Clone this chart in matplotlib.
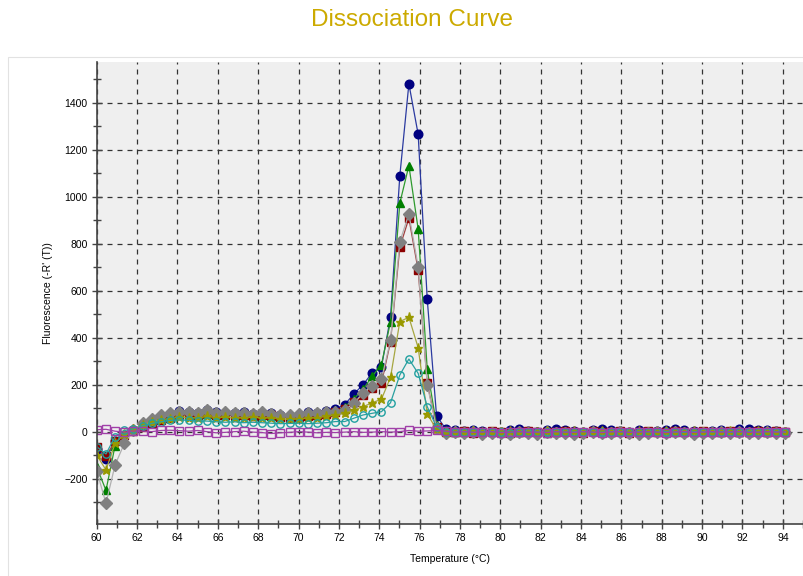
import matplotlib
matplotlib.use("Agg")
import matplotlib.pyplot as plt
from matplotlib.ticker import MultipleLocator
from matplotlib.patches import Rectangle

plt.rcParams['font.family'] = ['Liberation Sans', 'DejaVu Sans']

temperature = [60.00, 60.46, 60.91, 61.37, 61.82, 62.28, 62.73, 63.19, 63.64, 64.10,
               64.55, 65.01, 65.46, 65.92, 66.37, 66.83, 67.28, 67.74, 68.19, 68.65,
               69.10, 69.56, 70.01, 70.47, 70.92, 71.38, 71.83, 72.29, 72.74, 73.20,
               73.65, 74.11, 74.56, 75.02, 75.47, 75.93, 76.38, 76.84, 77.29, 77.75,
               78.20, 78.66, 79.11, 79.57, 80.02, 80.48, 80.93, 81.39, 81.84, 82.30,
               82.75, 83.21, 83.66, 84.12, 84.57, 85.03, 85.48, 85.94, 86.39, 86.85,
               87.30, 87.76, 88.21, 88.67, 89.12, 89.58, 90.03, 90.49, 90.94, 91.40,
               91.85, 92.31, 92.76, 93.22, 93.67, 94.13]

blue = [-75, -115, -40, -15, 5, 25, 40, 55, 70, 88,
        85, 80, 92, 82, 80, 78, 82, 75, 78, 80,
        70, 68, 72, 85, 80, 88, 95, 115, 160, 200,
        250, 275, 487, 1088, 1480, 1265, 563, 68, 12, 5,
        3, 8, 2, 0, -2, 5, 10, 3, 0, 8,
        12, 6, 3, 0, 5, 10, 8, 2, -3, 5,
        0, 3, 8, 12, 5, 2, 0, 4, 6, 0,
        10, 12, 8, 5, 2, 0]
green = [-150, -250, -60, -30, 5, 25, 40, 55, 62, 70,
         72, 70, 75, 70, 72, 68, 70, 72, 70, 68,
         62, 60, 65, 70, 72, 80, 90, 105, 140, 180,
         235, 285, 468, 972, 1132, 862, 265, 30, 5, 0,
         -2, 2, 0, -3, 0, 2, -2, 0, 3, -4,
         0, 2, -2, 0, 1, -3, 0, 2, 0, -2,
         0, 3, 0, -2, 1, 0, -3, 2, 0, 1,
         0, -2, 2, 0, 1, 0]
red = [-65, -105, -40, -15, 3, 20, 35, 50, 60, 70,
       75, 70, 78, 72, 70, 72, 70, 68, 70, 72,
       62, 60, 62, 68, 70, 75, 82, 95, 125, 156,
       185, 206, 383, 785, 908, 687, 206, 20, 0, -2,
       2, -4, 0, 3, -2, -5, 0, 2, -3, 0,
       -2, 3, 0, -4, 2, 0, -2, 3, -5, 0,
       2, -2, 0, 3, -3, 0, 2, -2, 0, 3,
       0, -2, 2, 0, 1, -2]
gray = [-166, -305, -142, -50, 5, 35, 55, 70, 80, 85,
        82, 78, 92, 80, 82, 78, 80, 76, 82, 74,
        72, 70, 74, 78, 80, 82, 85, 92, 121, 163,
        196, 223, 388, 808, 926, 702, 199, 15, -5, -3,
        -6, -2, -8, -4, -5, -10, -3, -6, -8, -2,
        -5, -4, -8, -6, -3, -7, -5, -2, -6, -8,
        -4, -3, -6, -2, -5, -8, -4, -6, -3, -5,
        -2, -4, -6, -3, -5, -4]
olive = [-100, -163, -50, -10, 10, 30, 40, 50, 55, 62,
         60, 58, 65, 60, 62, 58, 60, 62, 58, 60,
         55, 52, 55, 58, 60, 65, 70, 78, 92, 106,
         123, 138, 231, 468, 487, 357, 75, 10, 0, -2,
         0, 2, -1, 0, -3, 1, 0, -2, 0, 2,
         -1, 0, 1, -2, 0, 2, 0, -1, 0, 1,
         -2, 0, 1, 0, -1, 2, 0, -2, 0, 1,
         0, -1, 2, 0, -2, 0]
teal = [-64, -95, -21, 5, 12, 25, 35, 42, 48, 50,
        48, 45, 45, 42, 40, 42, 38, 40, 38, 36,
        34, 35, 36, 34, 36, 38, 43, 43, 57, 71,
        78, 85, 123, 241, 309, 248, 106, 20, 0, -2,
        0, -3, -1, 0, -2, -4, 0, -2, -1, -3,
        0, -2, -1, 0, -3, -2, 0, -1, -3, 0,
        -2, -1, 0, -2, -3, 0, -1, -2, 0, -3,
        -1, 0, -2, -1, 0, -2]
purple = [8, 10, 2, -2, 3, 2, 0, 5, 6, 4,
          2, 5, 0, -5, -3, 0, 2, -2, -4, -8,
          -5, -3, 0, -2, -5, -3, -4, -2, 0, -3,
          -2, 0, -2, 0, 5, 2, 3, 5, 2, -2,
          0, -3, -2, 0, -4, -2, 0, -3, -2, -4,
          0, -2, -3, 0, -2, -4, -1, 0, -3, -2,
          0, -2, -4, -1, 0, -3, -2, 0, -2, -1,
          0, -3, -2, 0, -2, -1]

series = [
    (blue,   dict(color='#2b3aa0', marker='o', mfc='#000080', mec='#000080', ms=6.2)),
    (green,  dict(color='#2e9a2e', marker='^', mfc='#008000', mec='#008000', ms=6.2)),
    (red,    dict(color='#a04040', marker='s', mfc='#8b0000', mec='#8b0000', ms=5.6)),
    (gray,   dict(color='#b0b0b0', marker='D', mfc='#808080', mec='#808080', ms=5.8)),
    (olive,  dict(color='#a6a640', marker='*', mfc='#999900', mec='#999900', ms=6.5)),
    (teal,   dict(color='#2aa0a0', marker='o', mfc='none', mec='#20a0a0', ms=5.3, mew=1.0)),
    (purple, dict(color='#a040a8', marker='s', mfc='none', mec='#a040a8', ms=6.0, mew=1.0)),
]

fig = plt.figure(figsize=(8.04, 5.76), dpi=100)
fig.patches.append(Rectangle((8 / 804, -0.01), 1.0, 1 - 57 / 576 + 0.01,
                             transform=fig.transFigure, fill=False,
                             edgecolor='#e2e2e2', linewidth=0.8))
ax = fig.add_axes([96.7 / 804, 1 - 524 / 576, (803 - 96.7) / 804, (524 - 62) / 576])
ax.set_facecolor('#efefef')

for vals, style in series:
    ax.plot(temperature, vals, linewidth=0.9, **style)

ax.set_xlim(60, 95)
ax.set_ylim(-393, 1573)
ax.xaxis.set_major_locator(MultipleLocator(2))
ax.xaxis.set_minor_locator(MultipleLocator(1))
ax.yaxis.set_major_locator(MultipleLocator(200))
ax.yaxis.set_minor_locator(MultipleLocator(100))
ax.grid(True, which='major', color='#333333', linestyle=(0, (4, 4)), linewidth=0.9)
ax.set_axisbelow(True)
for s in ['top', 'right']:
    ax.spines[s].set_visible(False)
for s in ['left', 'bottom']:
    ax.spines[s].set_color('#444444')
    ax.spines[s].set_linewidth(1.2)
ax.tick_params(which='major', direction='inout', length=7, width=1, color='#444444',
               labelsize=7.5, pad=3)
ax.tick_params(which='minor', direction='inout', length=6, width=1, color='#444444')

ax.set_xlabel('Temperature (°C)', fontsize=7.5, labelpad=8)
ax.set_ylabel("Fluorescence (-R' (T))", fontsize=7.5, labelpad=8)
fig.text(412 / 804, 1 - 20 / 576, 'Dissociation Curve', ha='center', va='center',
         fontsize=17.5, color='#ccaa00')

fig.savefig('out.png', dpi=100)
